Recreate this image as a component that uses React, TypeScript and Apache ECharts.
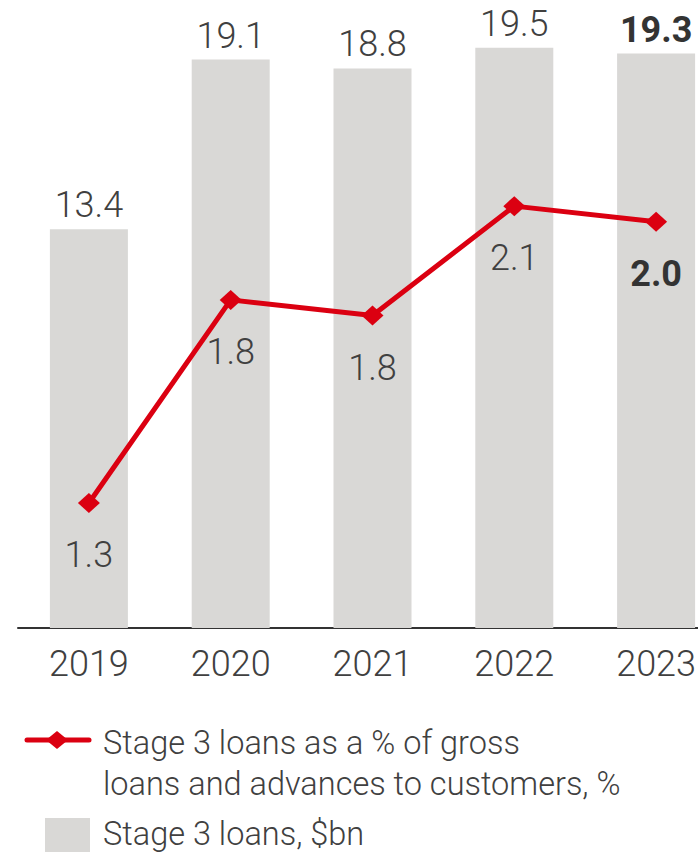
import React, { useEffect, useRef } from "react";
import * as echarts from "echarts";

const years = ["2019", "2020", "2021", "2022", "2023"];
const stage3Loans = [13.4, 19.1, 18.8, 19.5, 19.3];
const stage3Pct = [1.32, 1.84, 1.8, 2.08, 2.04];
const legendLine = ["Stage 3 loans as a % of gross", "loans and advances to customers, %"];
const legendBar = "Stage 3 loans, $bn";

const RED = "#db0011";
const GREY = "#d9d8d6";
const TEXT = "#404040";
const FONT = "Roboto";
const LIGHT = 300;

export default function App() {
  const ref = useRef<HTMLDivElement>(null);
  useEffect(() => {
    document.body.style.margin = "0";
    const chart = echarts.init(ref.current!, null, { renderer: "svg" });
    const last = years.length - 1;
    chart.setOption({
      animation: false,
      backgroundColor: "#ffffff",
      grid: { left: 18, top: 3, width: 709, height: 625, outerBoundsMode: "none" },
      xAxis: {
        type: "category",
        data: years,
        axisLine: { lineStyle: { color: "#333333", width: 2 } },
        axisTick: { show: false },
        axisLabel: { color: TEXT, fontSize: 36, fontFamily: FONT, fontWeight: LIGHT, margin: 18 },
      },
      yAxis: [
        { type: "value", min: 0, max: 21, show: false, splitLine: { show: false } },
        { type: "value", min: 1, max: 2.6, show: false, splitLine: { show: false } },
      ],
      series: [
        {
          type: "bar",
          yAxisIndex: 0,
          barWidth: 78,
          data: stage3Loans.map((v, i) => ({
            value: v,
            label:
              i === last
                ? { fontWeight: "bold", color: "#333333" }
                : undefined,
          })),
          itemStyle: { color: GREY },
          label: {
            show: true,
            position: "top",
            distance: 6,
            color: TEXT,
            fontSize: 36,
            fontFamily: FONT,
            fontWeight: LIGHT,
            formatter: (p: any) => Number(p.value).toFixed(1),
          },
        },
        {
          type: "line",
          yAxisIndex: 1,
          data: stage3Pct.map((v, i) => ({
            value: v,
            label:
              i === last
                ? { fontWeight: "bold", color: "#333333" }
                : undefined,
          })),
          lineStyle: { color: RED, width: 5 },
          itemStyle: { color: RED },
          symbol: "diamond",
          symbolSize: [22, 20],
          label: {
            show: true,
            position: "bottom",
            distance: 24,
            color: TEXT,
            fontSize: 36,
            fontFamily: FONT,
            fontWeight: LIGHT,
            formatter: (p: any) => Number(p.value).toFixed(1),
          },
          z: 5,
        },
      ],
      graphic: [
        {
          type: "line",
          shape: { x1: 27, y1: 740, x2: 89, y2: 740 },
          style: { stroke: RED, lineWidth: 5, lineCap: "round" },
        },
        {
          type: "polygon",
          shape: { points: [[57, 731], [68, 740], [57, 749], [46, 740]] },
          style: { fill: RED },
        },
        {
          type: "text",
          left: 103,
          top: 722,
          style: {
            text: legendLine.join("\n"),
            fill: TEXT,
            fontSize: 32.5,
            fontFamily: FONT,
            fontWeight: LIGHT,
            lineHeight: 41,
          },
        },
        {
          type: "rect",
          shape: { x: 45, y: 818, width: 45, height: 34 },
          style: { fill: GREY },
        },
        {
          type: "text",
          left: 103,
          top: 813,
          style: {
            text: legendBar,
            fill: TEXT,
            fontSize: 32.5,
            fontFamily: FONT,
            fontWeight: LIGHT,
            lineHeight: 41,
          },
        },
      ],
    });
    return () => chart.dispose();
  }, []);
  return <div ref={ref} style={{ width: 698, height: 855 }} />;
}
